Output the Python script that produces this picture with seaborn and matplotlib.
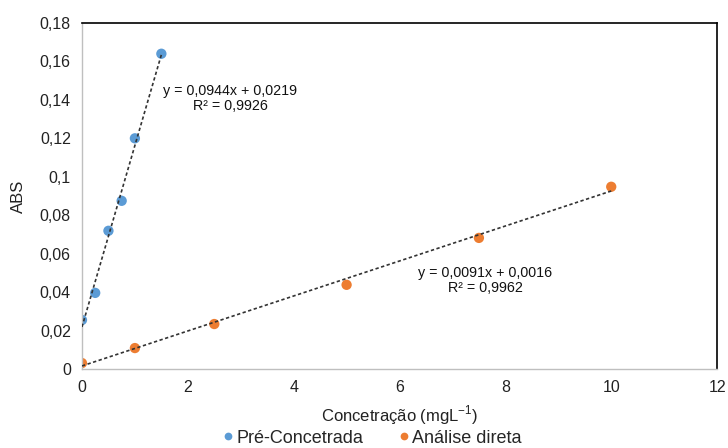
import numpy as np
import pandas as pd
import matplotlib
matplotlib.use("Agg")
import matplotlib.pyplot as plt
from matplotlib.ticker import FuncFormatter, MultipleLocator
import seaborn as sns

# Calibration data
pre_x = [0, 0.25, 0.5, 0.75, 1.0, 1.5]
pre_y = [0.0255, 0.0396, 0.0719, 0.0875, 0.120, 0.164]
dir_x = [0, 1, 2.5, 5, 7.5, 10]
dir_y = [0.0031, 0.0109, 0.0234, 0.0438, 0.0682, 0.0948]

series_names = ["Pré-Concetrada", "Análise direta"]
fit_slopes = [0.0944, 0.0091]
fit_intercepts = [0.0219, 0.0016]
fit_r2 = [0.9926, 0.9962]
fit_ranges = [(0, 1.5), (0, 10)]

colors = ["#5B9BD5", "#ED7D31"]

sns.set_theme(style="white")
plt.rcParams["font.family"] = ["Liberation Sans", "DejaVu Sans"]

df = pd.DataFrame({
    "x": pre_x + dir_x,
    "y": pre_y + dir_y,
    "serie": [series_names[0]] * len(pre_x) + [series_names[1]] * len(dir_x),
})

fig = plt.figure(figsize=(7.28, 4.48), dpi=100)
ax = fig.add_axes([0.1126, 0.1763, 0.8724, 0.7724])

# Linear trendlines
for (x0, x1), m, b in zip(fit_ranges, fit_slopes, fit_intercepts):
    xs = np.array([x0, x1])
    ax.plot(xs, m * xs + b, color="#333333", lw=1.2,
            linestyle=(0, (2.0, 1.5)), zorder=3)

sns.scatterplot(data=df, x="x", y="y", hue="serie", palette=colors,
                s=55, edgecolor="none", ax=ax, zorder=2, legend=True)

def dec(v):
    return f"{v:.4f}".replace(".", ",")

label_pos = [(2.80, 0.1485), (7.62, 0.0537)]
for (lx, ly), m, b, r2 in zip(label_pos, fit_slopes, fit_intercepts, fit_r2):
    ax.text(lx, ly, f"y = {dec(m)}x + {dec(b)}\nR² = {dec(r2)}",
            ha="center", va="top", fontsize=10.3, color="#111111",
            linespacing=1.1, multialignment="center")

ax.set_xlim(0, 12)
ax.set_ylim(0, 0.18)
ax.xaxis.set_major_locator(MultipleLocator(2))
ax.yaxis.set_major_locator(MultipleLocator(0.02))
fmt = FuncFormatter(lambda v, p: f"{round(v, 4):g}".replace(".", ","))
ax.xaxis.set_major_formatter(fmt)
ax.yaxis.set_major_formatter(fmt)
ax.tick_params(axis="both", length=0, labelsize=11.5, colors="#222222", pad=8)

ax.set_xlabel("Concetração (mgL$^{\\mathregular{-1}}$)", fontsize=12, color="#222222", labelpad=6)
ax.set_ylabel("ABS", fontsize=12, color="#222222", labelpad=10)

for side in ["left", "bottom"]:
    ax.spines[side].set_color("#BFBFBF")
    ax.spines[side].set_linewidth(1.0)
for side in ["top", "right"]:
    ax.spines[side].set_color("#000000")
    ax.spines[side].set_linewidth(1.2)

handles, labels = ax.get_legend_handles_labels()
ax.legend(handles, labels, loc="center", bbox_to_anchor=(0.457, -0.20),
          ncol=2, frameon=False, fontsize=13, handletextpad=0.15,
          handlelength=0.6, columnspacing=1.95, markerscale=0.75,
          borderaxespad=0)

fig.savefig("out.png", dpi=100)
